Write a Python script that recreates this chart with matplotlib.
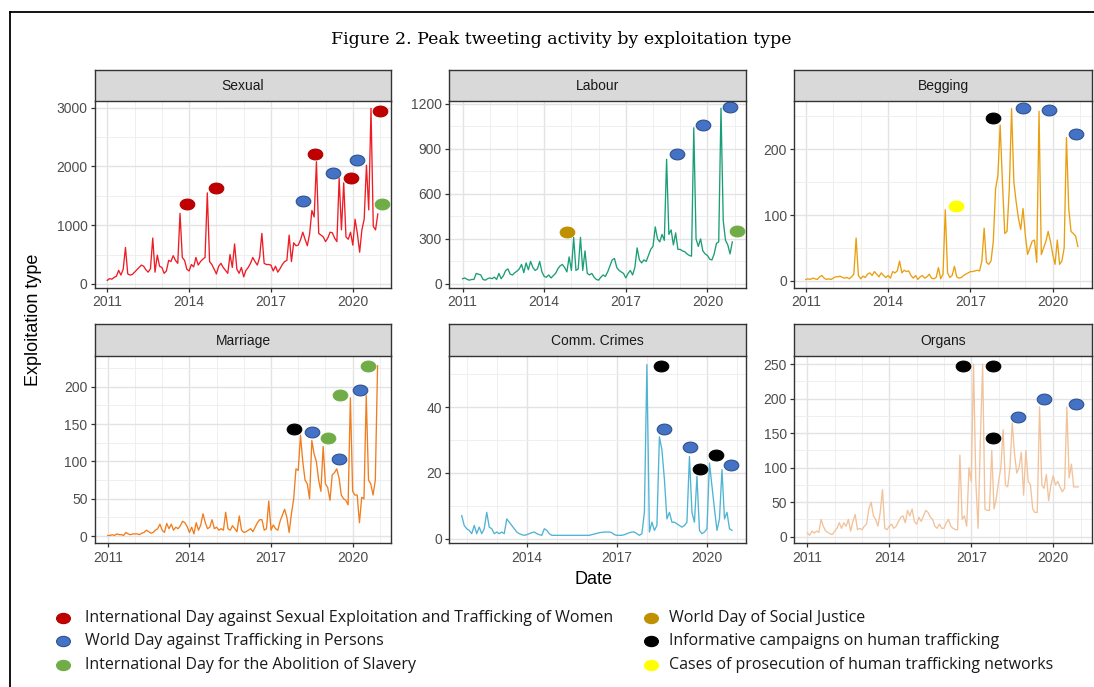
import numpy as np
import pandas as pd
import matplotlib
matplotlib.use('Agg')
import matplotlib.pyplot as plt
from matplotlib.path import Path
import matplotlib.transforms as mtransforms
from matplotlib.lines import Line2D
from matplotlib.ticker import FixedLocator

# ---------------- data ----------------
months = pd.date_range('2011-01-01', '2020-12-01', freq='MS')
comm_months = pd.date_range('2011-11-01', '2020-11-01', freq='MS')

sexual = [60, 90, 80, 110, 130, 230, 150, 250, 620, 170, 150, 160,
          200, 240, 280, 320, 300, 240, 200, 260, 780, 200, 490, 300,
          280, 180, 220, 400, 380, 480, 400, 350, 1200, 450, 400, 250,
          220, 330, 290, 450, 320, 380, 420, 450, 1550, 380, 330, 250,
          170, 300, 350, 280, 230, 180, 500, 280, 680, 250, 180, 280,
          120, 230, 280, 350, 450, 380, 320, 450, 860, 350, 330, 330,
          320, 220, 300, 200, 260, 330, 380, 400, 830, 380, 700, 650,
          660, 750, 880, 760, 650, 850, 1250, 1140, 2080, 860, 830, 800,
          720, 780, 880, 870, 780, 720, 1800, 920, 1720, 800, 760, 880,
          660, 1100, 860, 540, 920, 1100, 2020, 1260, 2990, 980, 920, 1190]

labour = [35, 40, 30, 25, 30, 30, 70, 65, 60, 30, 25, 35,
          40, 35, 45, 30, 70, 35, 55, 90, 100, 65, 60, 75,
          85, 100, 130, 75, 140, 95, 150, 110, 90, 100, 150, 80,
          50, 45, 60, 40, 55, 70, 100, 120, 130, 110, 80, 180,
          90, 310, 90, 100, 310, 90, 220, 70, 60, 70, 45, 30,
          25, 45, 60, 50, 80, 120, 160, 170, 110, 90, 80, 70,
          40, 70, 90, 60, 110, 240, 160, 140, 160, 150, 190, 230,
          250, 380, 300, 280, 330, 290, 830, 330, 360, 260, 340, 230,
          230, 220, 215, 200, 190, 185, 1040, 300, 250, 300, 220, 200,
          190, 165, 160, 200, 270, 280, 1170, 420, 290, 260, 200, 280]

begging = [2, 3, 2, 4, 3, 2, 6, 8, 4, 2, 3, 2,
           4, 6, 6, 7, 5, 4, 5, 3, 6, 10, 65, 8,
           3, 7, 5, 10, 12, 8, 14, 10, 6, 12, 8, 5,
           8, 4, 14, 12, 15, 30, 12, 16, 14, 15, 8, 4,
           8, 2, 6, 8, 4, 6, 10, 4, 3, 5, 20, 3,
           10, 108, 12, 5, 8, 22, 6, 4, 5, 8, 10, 12,
           14, 14, 15, 16, 15, 30, 80, 28, 25, 30, 60, 140,
           160, 237, 150, 72, 75, 140, 262, 150, 120, 95, 78, 110,
           70, 40, 50, 60, 62, 28, 258, 40, 50, 60, 75, 60,
           40, 25, 62, 25, 30, 50, 218, 110, 75, 72, 68, 52]

marriage = [1, 1, 2, 1, 3, 2, 2, 1, 5, 3, 2, 3,
            3, 3, 2, 4, 5, 8, 6, 4, 5, 8, 10, 16,
            8, 5, 17, 10, 16, 8, 12, 10, 14, 20, 18, 13,
            5, 12, 3, 18, 8, 15, 30, 18, 10, 12, 22, 10,
            12, 8, 10, 8, 32, 10, 8, 14, 10, 6, 27, 8,
            5, 6, 8, 10, 6, 12, 18, 22, 22, 8, 10, 47,
            8, 15, 10, 8, 20, 28, 36, 25, 5, 30, 50, 90,
            88, 135, 100, 75, 70, 50, 128, 110, 100, 75, 60, 120,
            70, 65, 48, 82, 85, 90, 78, 55, 50, 48, 42, 185,
            60, 55, 55, 18, 52, 50, 188, 75, 70, 55, 75, 228]

comm_crimes = [7, 4, 3, 2.5, 1.5, 4, 1.5, 3.5, 1.5, 3, 8, 3.5,
               3, 1.5, 2, 1.5, 2, 1.5, 6, 5, 4, 3, 2, 1.5,
               1.2, 1, 1.2, 1.5, 1.8, 2, 1.5, 1.2, 1, 3, 2.5, 1.5,
               1, 1, 1, 1, 1, 1, 1, 1, 1, 1, 1, 1,
               1, 1, 1, 1, 1.2, 1.4, 1.6, 1.8, 1.9, 2, 2, 2,
               1.8, 1.2, 1, 1, 1, 1.2, 1.5, 1.8, 2, 2, 1.5, 1,
               1.5, 8, 53, 2, 5, 2.5, 4, 31, 27, 18, 6, 8,
               5, 5, 4.5, 4, 3.5, 4, 5, 25, 8, 5, 19, 2.5,
               1.5, 2, 3, 23, 16, 9, 2.5, 6, 21, 6, 8, 3, 2.5]

organs = [5, 2, 8, 5, 8, 6, 25, 15, 8, 6, 4, 3,
          8, 12, 20, 12, 20, 15, 25, 8, 22, 32, 10, 12,
          10, 15, 18, 40, 50, 30, 25, 15, 35, 68, 12, 10,
          15, 18, 12, 15, 22, 28, 30, 20, 38, 30, 40, 22,
          18, 28, 22, 30, 38, 35, 28, 25, 15, 12, 18, 12,
          12, 20, 25, 15, 12, 10, 10, 118, 25, 30, 15, 100,
          80, 250, 80, 12, 140, 250, 40, 38, 38, 125, 40, 55,
          80, 100, 155, 75, 72, 100, 165, 120, 92, 100, 122, 60,
          125, 80, 75, 40, 35, 35, 188, 75, 70, 90, 52, 75,
          88, 75, 80, 72, 65, 70, 188, 85, 105, 72, 72, 72]

# event markers (decimal year, value, event key)
event_labels = {
    'sex': 'International Day against Sexual Exploitation and Trafficking of Women',
    'wdt': 'World Day against Trafficking in Persons',
    'abo': 'International Day for the Abolition of Slavery',
    'soc': 'World Day of Social Justice',
    'inf': 'Informative campaigns on human trafficking',
    'pro': 'Cases of prosecution of human trafficking networks',
}
event_face = {'sex': '#C00000', 'wdt': '#4472C4', 'abo': '#70AD47',
              'soc': '#BF9000', 'inf': '#000000', 'pro': '#FFFF00'}
event_edge = {'sex': '#B00000', 'wdt': '#2F528F', 'abo': '#70AD47',
              'soc': '#BF9000', 'inf': '#000000', 'pro': '#FFFF00'}

sexual_ev_x = [2013.94, 2015.0, 2018.17, 2018.61, 2019.27, 2020.16, 2019.93, 2021.01, 2021.07]
sexual_ev_y = [1356, 1640, 1412, 2212, 1883, 2110, 1809, 2950, 1356]
sexual_ev_k = ['sex', 'sex', 'wdt', 'sex', 'wdt', 'wdt', 'sex', 'sex', 'abo']

labour_ev_x = [2014.82, 2018.87, 2019.85, 2020.85, 2021.1]
labour_ev_y = [349, 864, 1060, 1180, 351]
labour_ev_k = ['soc', 'wdt', 'wdt', 'wdt', 'abo']

begging_ev_x = [2017.84, 2018.90, 2019.85, 2020.84, 2016.46]
begging_ev_y = [248, 263, 260, 224, 114]
begging_ev_k = ['inf', 'wdt', 'wdt', 'wdt', 'pro']

marriage_ev_x = [2017.83, 2018.52, 2019.11, 2019.50, 2019.54, 2020.28, 2020.58]
marriage_ev_y = [144, 140, 131, 103, 189, 196, 228]
marriage_ev_k = ['inf', 'wdt', 'abo', 'wdt', 'abo', 'wdt', 'abo']

comm_ev_x = [2018.47, 2018.58, 2019.42, 2019.78, 2020.30, 2020.80]
comm_ev_y = [52.6, 33.5, 27.8, 21.3, 25.5, 22.5]
comm_ev_k = ['inf', 'wdt', 'wdt', 'inf', 'inf', 'wdt']

organs_ev_x = [2016.68, 2017.78, 2017.78, 2018.70, 2019.66, 2020.82]
organs_ev_y = [248, 248, 143, 174, 199, 192]
organs_ev_k = ['inf', 'inf', 'inf', 'wdt', 'wdt', 'wdt']

panel_titles = ['Sexual', 'Labour', 'Begging', 'Marriage', 'Comm. Crimes', 'Organs']
line_colors = ['#EE1C25', '#1B9E77', '#E99F10', '#F07D1E', '#4FB3D4', '#F2C29A']

# ---------------- helpers ----------------
def dec_year(idx):
    return np.asarray(idx.year + (idx.month - 1) / 12.0, dtype=float)

ell = Path.unit_circle().transformed(mtransforms.Affine2D().scale(1.0, 0.74))

panels = [
    dict(x=dec_year(months), y=sexual, ex=sexual_ev_x, ey=sexual_ev_y, ek=sexual_ev_k,
         xlim=(2010.55, 2021.40), ylim=(-70, 3119),
         ymaj=[0, 1000, 2000, 3000], ymin=[500, 1500, 2500],
         xmaj=[2011, 2014, 2017, 2020]),
    dict(x=dec_year(months), y=labour, ex=labour_ev_x, ey=labour_ev_y, ek=labour_ev_k,
         xlim=(2010.51, 2021.42), ylim=(-27, 1220),
         ymaj=[0, 300, 600, 900, 1200], ymin=[150, 450, 750, 1050],
         xmaj=[2011, 2014, 2017, 2020]),
    dict(x=dec_year(months), y=begging, ex=begging_ev_x, ey=begging_ev_y, ek=begging_ev_k,
         xlim=(2010.58, 2021.42), ylim=(-11, 274),
         ymaj=[0, 100, 200], ymin=[50, 150, 250],
         xmaj=[2011, 2014, 2017, 2020]),
    dict(x=dec_year(months), y=marriage, ex=marriage_ev_x, ey=marriage_ev_y, ek=marriage_ev_k,
         xlim=(2010.53, 2021.41), ylim=(-9.4, 241.4),
         ymaj=[0, 50, 100, 150, 200], ymin=[25, 75, 125, 175, 225],
         xmaj=[2011, 2014, 2017, 2020]),
    dict(x=dec_year(comm_months), y=comm_crimes, ex=comm_ev_x, ey=comm_ev_y, ek=comm_ev_k,
         xlim=(2011.42, 2021.30), ylim=(-1.4, 55.7),
         ymaj=[0, 20, 40], ymin=[10, 30, 50],
         xmaj=[2014, 2017, 2020]),
    dict(x=dec_year(months), y=organs, ex=organs_ev_x, ey=organs_ev_y, ek=organs_ev_k,
         xlim=(2010.52, 2021.41), ylim=(-9.6, 262.3),
         ymaj=[0, 50, 100, 150, 200, 250], ymin=[25, 75, 125, 175, 225],
         xmaj=[2011, 2014, 2017, 2020]),
]

W, H = 1094, 687
fig = plt.figure(figsize=(W / 100, H / 100), dpi=100)
fig.patch.set_facecolor('white')

col_lr = [(95, 391), (449.3, 746), (794.3, 1091.7)]
row_tb = [((69.5, 100.7), (100.7, 288)), ((324, 355.7), (355.7, 543.2))]

def fx(px):
    return px / W

def fy(py):
    return 1 - py / H

sans = ['Liberation Sans', 'DejaVu Sans']

for i, p in enumerate(panels):
    r, c = divmod(i, 3)
    l, rgt = col_lr[c]
    (st, sb), (pt, pb) = row_tb[r]
    ax = fig.add_axes([fx(l), fy(pb), fx(rgt - l), (pb - pt) / H])
    sax = fig.add_axes([fx(l), fy(sb), fx(rgt - l), (sb - st) / H])

    ax.set_facecolor('white')
    ax.plot(p['x'], p['y'], color=line_colors[i], lw=0.95, zorder=3, solid_joinstyle='round')
    for xx, yy, kk in zip(p['ex'], p['ey'], p['ek']):
        ax.plot([xx], [yy], linestyle='none', marker=ell, markersize=10.5,
                markerfacecolor=event_face[kk], markeredgecolor=event_edge[kk],
                markeredgewidth=0.8, zorder=4, clip_on=False)
    ax.set_xlim(*p['xlim'])
    ax.set_ylim(*p['ylim'])
    ax.xaxis.set_major_locator(FixedLocator(p['xmaj']))
    ax.xaxis.set_minor_locator(FixedLocator(list(range(2010, 2023))))
    ax.yaxis.set_major_locator(FixedLocator(p['ymaj']))
    ax.yaxis.set_minor_locator(FixedLocator(p['ymin']))
    ax.set_xticklabels([str(v) for v in p['xmaj']])
    ax.set_yticklabels([str(v) for v in p['ymaj']])
    ax.grid(which='major', color='#E3E3E3', lw=1.0, zorder=0)
    ax.grid(which='minor', color='#EDEDED', lw=0.6, zorder=0)
    ax.set_axisbelow(True)
    ax.tick_params(which='major', length=3.2, width=0.9, color='#333333',
                   labelsize=10, labelcolor='#4D4D4D', pad=2.2)
    ax.tick_params(which='minor', length=0)
    for lab in ax.get_xticklabels() + ax.get_yticklabels():
        lab.set_family(sans)
    for s in ax.spines.values():
        s.set_color('#333333')
        s.set_linewidth(1.0)
    ax.spines['top'].set_visible(False)

    sax.set_facecolor('#D9D9D9')
    sax.set_xticks([])
    sax.set_yticks([])
    for s in sax.spines.values():
        s.set_color('#333333')
        s.set_linewidth(1.0)
    sax.text(0.5, 0.47, panel_titles[i], transform=sax.transAxes, ha='center', va='center',
             fontsize=10, color='#1A1A1A', family=sans)

# axis labels
fig.text(fx(33), fy(320), 'Exploitation type', rotation=90, ha='center', va='center',
         fontsize=13, color='black', family=sans)
fig.text(fx(593), fy(580), 'Date', ha='center', va='center', fontsize=13,
         color='black', family=sans)

# title
fig.text(fx(561), fy(40), 'Figure 2. Peak tweeting activity by exploitation type',
         ha='center', va='center', fontsize=12.5, family=['DejaVu Serif'], color='black')

# frame lines
fig.add_artist(Line2D([fx(10), 1.0], [fy(12), fy(12)], color='black', lw=1.3))
fig.add_artist(Line2D([fx(10), fx(10)], [fy(12), 0.0], color='black', lw=1.3))

# legend
leg_keys = ['sex', 'wdt', 'abo', 'soc', 'inf', 'pro']
leg_pos = [(63, 618), (63, 641), (63, 665), (651, 618), (651, 641), (651, 665)]
leg_text_x = [85, 85, 85, 669, 669, 669]
for k, (lx, ly), tx in zip(leg_keys, leg_pos, leg_text_x):
    fig.add_artist(Line2D([fx(lx)], [fy(ly)], linestyle='none', marker=ell, markersize=10,
                          markerfacecolor=event_face[k], markeredgecolor=event_edge[k],
                          markeredgewidth=0.8))
    fig.text(fx(tx), fy(ly), event_labels[k], ha='left', va='center',
             fontsize=11.5, family=['Open Sans', 'DejaVu Sans'], color='#1A1A1A')

fig.savefig('out.png', dpi=100)
